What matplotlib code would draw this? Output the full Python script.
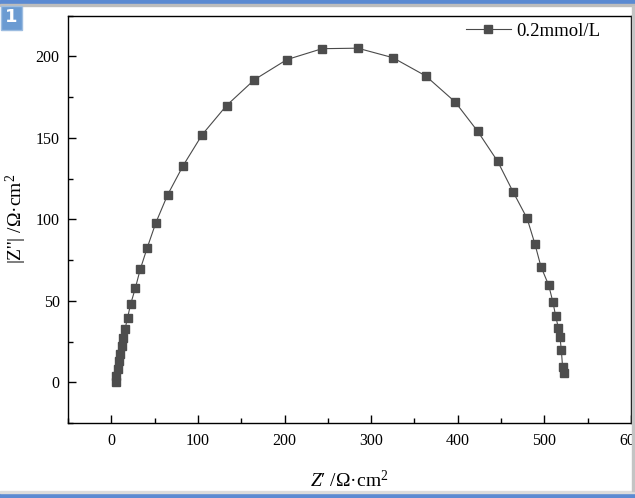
import matplotlib
matplotlib.use("Agg")
import matplotlib.pyplot as plt
from matplotlib.patches import Rectangle
from matplotlib.ticker import MultipleLocator

plt.rcParams['font.family'] = ['Liberation Serif', 'DejaVu Serif']
plt.rcParams['mathtext.fontset'] = 'custom'
plt.rcParams['mathtext.rm'] = 'Liberation Serif'
plt.rcParams['mathtext.it'] = 'Liberation Serif:italic'

# Nyquist data (Z' real part, Z'' imaginary magnitude), ohm*cm^2
z_real = [5.0, 5.8, 7.3, 8.9, 10.4, 11.9, 13.5, 15.8, 18.8, 22.3, 27.7, 33.4,
          41.5, 51.5, 65.0, 83.0, 105.0, 133.0, 165.3, 202.7, 243.4, 284.5,
          325.0, 363.0, 397.0, 423.0, 446.0, 463.7, 480.0, 489.0, 496.0,
          505.0, 509.8, 513.0, 516.0, 518.0, 519.6, 521.0, 522.5]
z_imag = [0.0, 3.7, 8.4, 13.1, 17.6, 22.3, 27.0, 32.5, 39.7, 47.9, 57.7, 69.3,
          82.6, 98.0, 115.0, 133.0, 152.0, 169.8, 185.7, 198.0, 204.7, 205.0,
          199.2, 188.0, 172.0, 154.0, 135.6, 117.0, 100.6, 85.0, 71.0,
          59.5, 49.3, 40.7, 33.6, 27.8, 19.6, 9.4, 5.5]
series_label = "0.2mmol/L"

fig = plt.figure(figsize=(6.35, 4.98), dpi=100)
ax = fig.add_axes([68/635, (498-423)/498, (631-68)/635, (423-15.6)/498])

ax.plot(z_real, z_imag, color='#4a4a4a', lw=0.8, marker='s', ms=6.0,
        mfc='#4d4d4d', mec='#4d4d4d', label=series_label)

ax.set_xlim(-50, 600)
ax.set_ylim(-25, 225)
ax.xaxis.set_major_locator(MultipleLocator(100))
ax.xaxis.set_minor_locator(MultipleLocator(50))
ax.yaxis.set_major_locator(MultipleLocator(50))
ax.yaxis.set_minor_locator(MultipleLocator(25))
ax.tick_params(which='both', direction='in', labelsize=11.5, width=1.0)
ax.tick_params(which='major', length=6)
ax.tick_params(which='minor', length=3.5)
ax.tick_params(axis='x', pad=7)
ax.tick_params(axis='y', pad=6)
for s in ax.spines.values():
    s.set_linewidth(1.0)

ax.set_xlabel(r"$\mathit{Z}$′ /Ω·cm$^2$", fontsize=14, labelpad=15)
ax.set_ylabel(r"|Z''| /Ω·cm$^2$", fontsize=14, labelpad=5)

leg = ax.legend(loc='upper right', frameon=False, fontsize=13.5,
                handlelength=2.4, handletextpad=0.3, borderpad=0.2,
                bbox_to_anchor=(0.969, 1.015))

# window frame decorations
fig.patches.append(Rectangle((0, 1 - 4/498), 1, 4/498, transform=fig.transFigure,
                             color='#5b8ad2', zorder=0))
fig.patches.append(Rectangle((0, 1 - 6/498), 1, 2/498, transform=fig.transFigure,
                             color='#bdbdbd', zorder=0))
fig.patches.append(Rectangle((0, 0), 1, 5/498, transform=fig.transFigure,
                             color='#5b8ad2', zorder=0))
fig.patches.append(Rectangle((0, 5/498), 1, 2/498, transform=fig.transFigure,
                             color='#dcdcdc', zorder=0))
fig.patches.append(Rectangle((632/635, 7/498), 3/635, 485/498, transform=fig.transFigure,
                             color='#c4c4c4', zorder=0))
fig.patches.append(Rectangle((1/635, (498-30)/498), 21/635, 24/498, transform=fig.transFigure,
                             facecolor='#6b9bd2', edgecolor='#9cbce0', lw=1, zorder=1))
fig.text(11.5/635, (498-17.5)/498, "1", color='white', fontsize=13, fontweight='bold',
         family='DejaVu Sans', ha='center', va='center')

fig.savefig("out.png", dpi=100)
